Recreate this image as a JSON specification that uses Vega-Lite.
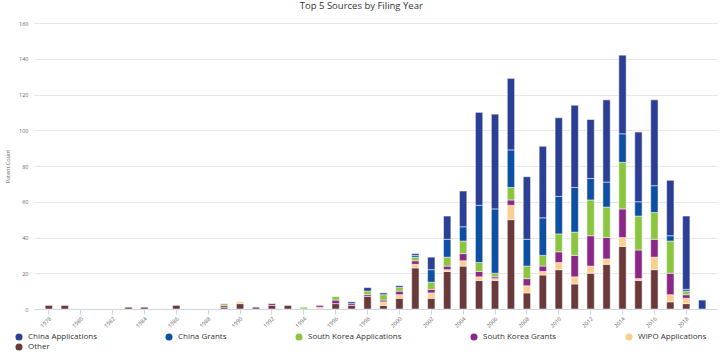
{
  "$schema": "https://vega.github.io/schema/vega-lite/v6.json",
  "width": 683,
  "height": 286,
  "autosize": {"type": "none"},
  "padding": {"left": 34, "top": 23, "right": 4, "bottom": 50},
  "background": "white",
  "title": {"text": "Top 5 Sources by Filing Year", "fontSize": 9.5, "font": "Open Sans", "fontWeight": "normal", "color": "#333333", "anchor": "middle", "frame": "bounds", "offset": 11},
  "data": {"values": [
    {"year": 1978, "source": "Other", "count": 2},
    {"year": 1979, "source": "Other", "count": 2},
    {"year": 1983, "source": "Other", "count": 1},
    {"year": 1984, "source": "Other", "count": 1},
    {"year": 1986, "source": "Other", "count": 2},
    {"year": 1989, "source": "Other", "count": 1},
    {"year": 1989, "source": "South Korea Grants", "count": 1},
    {"year": 1989, "source": "South Korea Applications", "count": 1},
    {"year": 1990, "source": "Other", "count": 3},
    {"year": 1990, "source": "WIPO Applications", "count": 1},
    {"year": 1991, "source": "Other", "count": 1},
    {"year": 1992, "source": "Other", "count": 2},
    {"year": 1992, "source": "South Korea Grants", "count": 1},
    {"year": 1993, "source": "Other", "count": 2},
    {"year": 1994, "source": "South Korea Applications", "count": 1},
    {"year": 1995, "source": "WIPO Applications", "count": 1},
    {"year": 1995, "source": "South Korea Grants", "count": 1},
    {"year": 1996, "source": "Other", "count": 3},
    {"year": 1996, "source": "South Korea Grants", "count": 2},
    {"year": 1996, "source": "South Korea Applications", "count": 2},
    {"year": 1997, "source": "Other", "count": 2},
    {"year": 1997, "source": "South Korea Grants", "count": 1},
    {"year": 1997, "source": "China Applications", "count": 1},
    {"year": 1998, "source": "Other", "count": 7},
    {"year": 1998, "source": "South Korea Grants", "count": 1},
    {"year": 1998, "source": "South Korea Applications", "count": 2},
    {"year": 1998, "source": "China Applications", "count": 2},
    {"year": 1999, "source": "Other", "count": 2},
    {"year": 1999, "source": "WIPO Applications", "count": 2},
    {"year": 1999, "source": "South Korea Grants", "count": 1},
    {"year": 1999, "source": "South Korea Applications", "count": 3},
    {"year": 1999, "source": "China Applications", "count": 1},
    {"year": 2000, "source": "Other", "count": 6},
    {"year": 2000, "source": "WIPO Applications", "count": 2},
    {"year": 2000, "source": "South Korea Grants", "count": 2},
    {"year": 2000, "source": "South Korea Applications", "count": 2},
    {"year": 2000, "source": "China Applications", "count": 1},
    {"year": 2001, "source": "Other", "count": 23},
    {"year": 2001, "source": "WIPO Applications", "count": 2},
    {"year": 2001, "source": "South Korea Grants", "count": 2},
    {"year": 2001, "source": "South Korea Applications", "count": 2},
    {"year": 2001, "source": "China Grants", "count": 1},
    {"year": 2001, "source": "China Applications", "count": 1},
    {"year": 2002, "source": "Other", "count": 6},
    {"year": 2002, "source": "WIPO Applications", "count": 3},
    {"year": 2002, "source": "South Korea Grants", "count": 2},
    {"year": 2002, "source": "South Korea Applications", "count": 4},
    {"year": 2002, "source": "China Grants", "count": 7},
    {"year": 2002, "source": "China Applications", "count": 7},
    {"year": 2003, "source": "Other", "count": 21},
    {"year": 2003, "source": "WIPO Applications", "count": 1},
    {"year": 2003, "source": "South Korea Grants", "count": 2},
    {"year": 2003, "source": "South Korea Applications", "count": 5},
    {"year": 2003, "source": "China Grants", "count": 10},
    {"year": 2003, "source": "China Applications", "count": 13},
    {"year": 2004, "source": "Other", "count": 24},
    {"year": 2004, "source": "WIPO Applications", "count": 3},
    {"year": 2004, "source": "South Korea Grants", "count": 4},
    {"year": 2004, "source": "South Korea Applications", "count": 7},
    {"year": 2004, "source": "China Grants", "count": 8},
    {"year": 2004, "source": "China Applications", "count": 20},
    {"year": 2005, "source": "Other", "count": 16},
    {"year": 2005, "source": "WIPO Applications", "count": 2},
    {"year": 2005, "source": "South Korea Grants", "count": 3},
    {"year": 2005, "source": "South Korea Applications", "count": 5},
    {"year": 2005, "source": "China Grants", "count": 32},
    {"year": 2005, "source": "China Applications", "count": 52},
    {"year": 2006, "source": "Other", "count": 16},
    {"year": 2006, "source": "WIPO Applications", "count": 1},
    {"year": 2006, "source": "South Korea Grants", "count": 1},
    {"year": 2006, "source": "South Korea Applications", "count": 2},
    {"year": 2006, "source": "China Grants", "count": 36},
    {"year": 2006, "source": "China Applications", "count": 53},
    {"year": 2007, "source": "Other", "count": 50},
    {"year": 2007, "source": "WIPO Applications", "count": 8},
    {"year": 2007, "source": "South Korea Grants", "count": 3},
    {"year": 2007, "source": "South Korea Applications", "count": 7},
    {"year": 2007, "source": "China Grants", "count": 21},
    {"year": 2007, "source": "China Applications", "count": 40},
    {"year": 2008, "source": "Other", "count": 9},
    {"year": 2008, "source": "WIPO Applications", "count": 4},
    {"year": 2008, "source": "South Korea Grants", "count": 4},
    {"year": 2008, "source": "South Korea Applications", "count": 7},
    {"year": 2008, "source": "China Grants", "count": 15},
    {"year": 2008, "source": "China Applications", "count": 35},
    {"year": 2009, "source": "Other", "count": 19},
    {"year": 2009, "source": "WIPO Applications", "count": 2},
    {"year": 2009, "source": "South Korea Grants", "count": 3},
    {"year": 2009, "source": "South Korea Applications", "count": 6},
    {"year": 2009, "source": "China Grants", "count": 21},
    {"year": 2009, "source": "China Applications", "count": 40},
    {"year": 2010, "source": "Other", "count": 22},
    {"year": 2010, "source": "WIPO Applications", "count": 4},
    {"year": 2010, "source": "South Korea Grants", "count": 6},
    {"year": 2010, "source": "South Korea Applications", "count": 10},
    {"year": 2010, "source": "China Grants", "count": 21},
    {"year": 2010, "source": "China Applications", "count": 44},
    {"year": 2011, "source": "Other", "count": 14},
    {"year": 2011, "source": "WIPO Applications", "count": 4},
    {"year": 2011, "source": "South Korea Grants", "count": 12},
    {"year": 2011, "source": "South Korea Applications", "count": 13},
    {"year": 2011, "source": "China Grants", "count": 25},
    {"year": 2011, "source": "China Applications", "count": 46},
    {"year": 2012, "source": "Other", "count": 20},
    {"year": 2012, "source": "WIPO Applications", "count": 4},
    {"year": 2012, "source": "South Korea Grants", "count": 17},
    {"year": 2012, "source": "South Korea Applications", "count": 20},
    {"year": 2012, "source": "China Grants", "count": 12},
    {"year": 2012, "source": "China Applications", "count": 33},
    {"year": 2013, "source": "Other", "count": 25},
    {"year": 2013, "source": "WIPO Applications", "count": 3},
    {"year": 2013, "source": "South Korea Grants", "count": 12},
    {"year": 2013, "source": "South Korea Applications", "count": 17},
    {"year": 2013, "source": "China Grants", "count": 14},
    {"year": 2013, "source": "China Applications", "count": 46},
    {"year": 2014, "source": "Other", "count": 35},
    {"year": 2014, "source": "WIPO Applications", "count": 5},
    {"year": 2014, "source": "South Korea Grants", "count": 16},
    {"year": 2014, "source": "South Korea Applications", "count": 26},
    {"year": 2014, "source": "China Grants", "count": 16},
    {"year": 2014, "source": "China Applications", "count": 44},
    {"year": 2015, "source": "Other", "count": 16},
    {"year": 2015, "source": "WIPO Applications", "count": 1},
    {"year": 2015, "source": "South Korea Grants", "count": 16},
    {"year": 2015, "source": "South Korea Applications", "count": 19},
    {"year": 2015, "source": "China Grants", "count": 8},
    {"year": 2015, "source": "China Applications", "count": 39},
    {"year": 2016, "source": "Other", "count": 22},
    {"year": 2016, "source": "WIPO Applications", "count": 7},
    {"year": 2016, "source": "South Korea Grants", "count": 10},
    {"year": 2016, "source": "South Korea Applications", "count": 15},
    {"year": 2016, "source": "China Grants", "count": 15},
    {"year": 2016, "source": "China Applications", "count": 48},
    {"year": 2017, "source": "Other", "count": 4},
    {"year": 2017, "source": "WIPO Applications", "count": 4},
    {"year": 2017, "source": "South Korea Grants", "count": 12},
    {"year": 2017, "source": "South Korea Applications", "count": 18},
    {"year": 2017, "source": "China Grants", "count": 3},
    {"year": 2017, "source": "China Applications", "count": 31},
    {"year": 2018, "source": "Other", "count": 3},
    {"year": 2018, "source": "WIPO Applications", "count": 3},
    {"year": 2018, "source": "South Korea Grants", "count": 2},
    {"year": 2018, "source": "South Korea Applications", "count": 2},
    {"year": 2018, "source": "China Grants", "count": 1},
    {"year": 2018, "source": "China Applications", "count": 41},
    {"year": 2019, "source": "China Applications", "count": 5}
  ]},
  "transform": [
    {"calculate": "indexof(['Other', 'WIPO Applications', 'South Korea Grants', 'South Korea Applications', 'China Grants', 'China Applications'], datum.source)", "as": "stackRank"}
  ],
  "mark": {"type": "bar", "stroke": "#ffffff", "strokeWidth": 0.5},
  "encoding": {
    "x": {
      "field": "year",
      "type": "ordinal",
      "scale": {
        "domain": [1978,1979,1980,1981,1982,1983,1984,1985,1986,1987,1988,1989,1990,1991,1992,1993,1994,1995,1996,1997,1998,1999,2000,2001,2002,2003,2004,2005,2006,2007,2008,2009,2010,2011,2012,2013,2014,2015,2016,2017,2018,2019],
        "paddingInner": 0.54,
        "paddingOuter": 0.7
      },
      "axis": {
        "title": null,
        "values": [1978,1980,1982,1984,1986,1988,1990,1992,1994,1996,1998,2000,2002,2004,2006,2008,2010,2012,2014,2016,2018],
        "labelAngle": -45,
        "labelFontSize": 5.5,
        "labelColor": "#666666",
        "labelPadding": 2,
        "domainColor": "#ccd6eb",
        "tickColor": "#ccd6eb",
        "tickSize": 5,
        "grid": false
      }
    },
    "y": {
      "field": "count",
      "type": "quantitative",
      "stack": "zero",
      "scale": {"domain": [0, 160], "nice": false},
      "axis": {
        "title": "Patent Count",
        "titleFontSize": 5.5,
        "titleFontWeight": "normal",
        "titleColor": "#666666",
        "titlePadding": 8,
        "values": [0, 20, 40, 60, 80, 100, 120, 140, 160],
        "labelFontSize": 5.5,
        "labelColor": "#666666",
        "labelPadding": 6,
        "domain": false,
        "ticks": false,
        "gridColor": "#e6e6e6",
        "gridWidth": 1
      }
    },
    "color": {
      "field": "source",
      "type": "nominal",
      "scale": {
        "domain": ["China Applications", "China Grants", "South Korea Applications", "South Korea Grants", "WIPO Applications", "Other"],
        "range": ["#2b3f94", "#0d4fa3", "#8cc540", "#8b2887", "#f8cf91", "#6a3a3a"]
      },
      "legend": {
        "title": null,
        "orient": "none",
        "legendX": -19,
        "legendY": 310,
        "columns": 5,
        "direction": "horizontal",
        "columnPadding": 68,
        "rowPadding": 2,
        "symbolType": "circle",
        "symbolSize": 50,
        "symbolStrokeWidth": 0,
        "labelFontSize": 8,
        "labelColor": "#333333",
        "labelOffset": 5
      }
    },
    "order": {"field": "stackRank", "type": "quantitative", "sort": "ascending"}
  },
  "config": {
    "view": {"stroke": null},
    "font": "Open Sans"
  }
}
